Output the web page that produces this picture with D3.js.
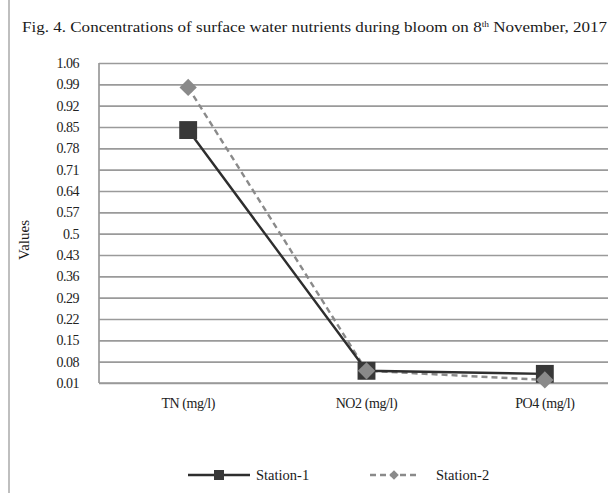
<!DOCTYPE html>
<html><head><meta charset="utf-8">
<script src="https://cdn.jsdelivr.net/npm/d3@7/dist/d3.min.js"></script>
<style>body{margin:0;background:#fff}svg{display:block}svg text{font-family:"Liberation Serif","DejaVu Serif",serif}</style>
</head><body><svg id="c" width="611" height="493"></svg>
<script>
const categories = ["TN (mg/l)", "NO2 (mg/l)", "PO4 (mg/l)"];
const station1 = [0.84, 0.05, 0.04];
const station2 = [0.98, 0.05, 0.02];
const yTicks = [0.01,0.08,0.15,0.22,0.29,0.36,0.43,0.5,0.57,0.64,0.71,0.78,0.85,0.92,0.99,1.06];
const seriesNames = ["Station-1", "Station-2"];

const svg = d3.select("#c");
const L = 99, R = 634, T = 63, B = 383;
const x = d3.scalePoint().domain(categories).range([L, R]).padding(0.5);
const y = d3.scaleLinear().domain([0.01, 1.06]).range([B, T]);

svg.append("line").attr("x1",9).attr("x2",9).attr("y1",0).attr("y2",493).attr("stroke","#aaa").attr("stroke-width",1.5);

const title = svg.append("text").attr("x",22).attr("y",32).attr("font-size",14.5)
  .attr("textLength",585).attr("lengthAdjust","spacingAndGlyphs").attr("fill","#1a1a1a");
title.append("tspan").text("Fig. 4. Concentrations of  surface water nutrients during bloom on 8");
title.append("tspan").attr("font-size",8).attr("dy",-5).text("th");
title.append("tspan").attr("dy",5).text(" November, 2017");

svg.append("clipPath").attr("id","cp").append("rect").attr("x",0).attr("y",0).attr("width",608).attr("height",493);
const g = svg.append("g").attr("clip-path","url(#cp)");

const ya = d3.axisLeft(y).tickValues(yTicks).tickSize(-(R - L)).tickFormat("");
const yg = g.append("g").attr("transform",`translate(${L},0)`).call(ya);
yg.select(".domain").remove();
yg.selectAll(".tick line").attr("stroke","#9a9a9a").attr("stroke-width",1.7);
yg.selectAll(".tick text").remove();

svg.append("g").selectAll("text").data(yTicks).join("text")
  .attr("x",79).attr("y",d=>y(d)+5).attr("text-anchor","end").attr("font-size",14).attr("fill","#222")
  .attr("letter-spacing","-0.5")
  .text(d=>String(+d.toFixed(2)));

svg.append("line").attr("x1",L).attr("x2",L).attr("y1",T).attr("y2",B).attr("stroke","#999").attr("stroke-width",1.7);
g.append("line").attr("x1",L).attr("x2",R).attr("y1",B).attr("y2",B).attr("stroke","#999").attr("stroke-width",1.7);

svg.append("text").attr("transform","translate(29,240) rotate(-90)").attr("text-anchor","middle")
  .attr("font-size",15).attr("fill","#1a1a1a").text("Values");

svg.append("g").selectAll("text").data(categories).join("text")
  .attr("x",d=>x(d)).attr("y",408).attr("text-anchor","middle").attr("font-size",14).attr("fill","#222")
  .attr("letter-spacing","-0.4")
  .text(d=>d);

const line = d3.line().x((d,i)=>x(categories[i])).y(d=>y(d));

svg.append("path").attr("d",line(station2)).attr("fill","none").attr("stroke","#8a8a8a").attr("stroke-width",2.4).attr("stroke-dasharray","6,4");
svg.append("path").attr("d",line(station1)).attr("fill","none").attr("stroke","#2e2e2e").attr("stroke-width",2.4);

const sq = d3.symbol().type(d3.symbolSquare).size(320);
const dm = d3.symbol().type(d3.symbolSquare).size(150);
svg.append("g").selectAll("path").data(station1).join("path")
  .attr("transform",(d,i)=>`translate(${x(categories[i])},${y(d)})`).attr("d",sq).attr("fill","#383838");
svg.append("g").selectAll("path").data(station2).join("path")
  .attr("transform",(d,i)=>`translate(${x(categories[i])},${y(d)}) rotate(45)`).attr("d",dm).attr("fill","#8a8a8a");

const lg = svg.append("g");
lg.append("line").attr("x1",188).attr("x2",250).attr("y1",475).attr("y2",475).attr("stroke","#2e2e2e").attr("stroke-width",2.4);
lg.append("path").attr("transform","translate(219,475)").attr("d",d3.symbol().type(d3.symbolSquare).size(100)).attr("fill","#383838");
lg.append("text").attr("x",256).attr("y",480).attr("font-size",14.5).attr("fill","#1a1a1a").text(seriesNames[0]);
lg.append("line").attr("x1",370).attr("x2",418).attr("y1",475).attr("y2",475).attr("stroke","#8a8a8a").attr("stroke-width",2.4).attr("stroke-dasharray","6,4");
lg.append("path").attr("transform","translate(394,475) rotate(45)").attr("d",d3.symbol().type(d3.symbolSquare).size(45)).attr("fill","#8a8a8a");
lg.append("text").attr("x",436).attr("y",480).attr("font-size",14.5).attr("fill","#1a1a1a").text(seriesNames[1]);
</script></body></html>
